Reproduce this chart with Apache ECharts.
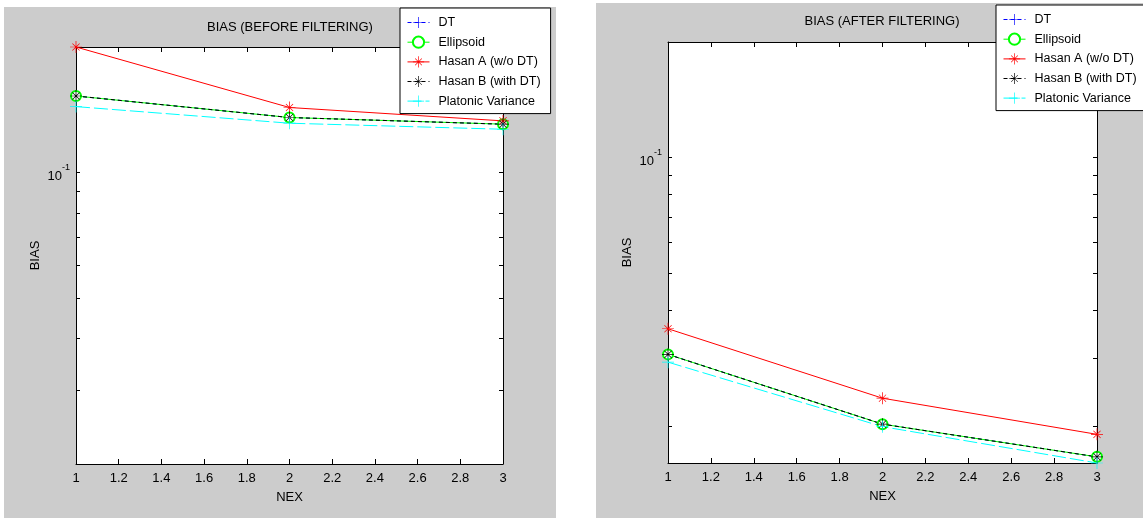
<!DOCTYPE html>
<html>
<head>
<meta charset="utf-8">
<script src="https://cdn.jsdelivr.net/npm/echarts@6/dist/echarts.min.js"></script>
<style>
  html, body { margin: 0; padding: 0; background: #ffffff; }
  #chart { width: 1143px; height: 518px; }
</style>
</head>
<body>
<div id="chart"></div>
<script>
// NEX values on the x axis
const nex = [1, 2, 3];

// Series names, in drawing order
const seriesNames = ['DT', 'Ellipsoid', 'Hasan A (w/o DT)', 'Hasan B (with DT)', 'Platonic Variance'];

// Bias before filtering
const dtBefore        = [0.1526, 0.1355, 0.1306];
const ellipsoidBefore = [0.1526, 0.1355, 0.1306];
const hasanABefore    = [0.2000, 0.1432, 0.1330];
const hasanBBefore    = [0.1526, 0.1355, 0.1306];
const platonicBefore  = [0.1439, 0.1313, 0.1270];

// Bias after filtering
const dtAfter        = [0.0307, 0.0202, 0.0166];
const ellipsoidAfter = [0.0307, 0.0202, 0.0166];
const hasanAAfter    = [0.0358, 0.0236, 0.0190];
const hasanBAfter    = [0.0307, 0.0202, 0.0166];
const platonicAfter  = [0.0293, 0.0199, 0.0160];

// Axis ranges and tick positions
const yRangeBefore = [0.02, 0.2];
const yRangeAfter  = [0.016, 0.2];
const yTickValues  = [0.02, 0.03, 0.04, 0.05, 0.06, 0.07, 0.08, 0.09, 0.1];
const yLabelValues = [0.1];
const xRange = [1, 3];
const xStep = 0.2;

const titles = ['BIAS (BEFORE FILTERING)', 'BIAS (AFTER FILTERING)'];
const xName = 'NEX';
const yName = 'BIAS';

const FONT = '"Liberation Sans", Arial, Helvetica, sans-serif';

// MATLAB-like marker shapes
const PLUS = 'path://M9.4,0H10.6V20H9.4Z M0,9.4H20V10.6H0Z';
const STAR = 'path://M9.4,0H10.6V20H9.4Z M0,9.4H20V10.6H0Z ' +
             'M3.6,4.4L4.4,3.6L16.4,15.6L15.6,16.4Z M15.6,3.6L16.4,4.4L4.4,16.4L3.6,15.6Z';

const styles = [
  { color: '#0000ff', type: [4, 3], symbol: PLUS, size: 11 },
  { color: '#00ff00', type: 'solid', symbol: 'emptyCircle', size: 10 },
  { color: '#ff0000', type: 'solid', symbol: STAR, size: 12 },
  { color: '#000000', type: [4, 3], symbol: STAR, size: 12 },
  { color: '#00ffff', type: [14, 4], symbol: PLUS, size: 12 }
];

const panels = [
  { values: [dtBefore, ellipsoidBefore, hasanABefore, hasanBBefore, platonicBefore], yRange: yRangeBefore,
    grid: { left: 76, top: 47, width: 427, height: 417 } },
  { values: [dtAfter, ellipsoidAfter, hasanAAfter, hasanBAfter, platonicAfter], yRange: yRangeAfter,
    grid: { left: 668, top: 42, width: 429, height: 421 } }
];

const log10 = Math.log10;
const grids = [], xAxes = [], yAxes = [], series = [];

panels.forEach((p, gi) => {
  grids.push(Object.assign({ show: true, backgroundColor: '#ffffff', borderWidth: 0 }, p.grid));

  const xCommon = {
    type: 'value', gridIndex: gi, min: xRange[0], max: xRange[1], interval: xStep,
    splitLine: { show: false },
    axisLine: { show: true, lineStyle: { color: '#000', width: 1 } },
    axisTick: { show: true, inside: true, length: 5, lineStyle: { color: '#000' } }
  };
  xAxes.push(Object.assign({}, xCommon, {
    position: 'bottom',
    axisLabel: { show: true, color: '#000', fontFamily: FONT, fontSize: 13, margin: 8 },
    name: xName, nameLocation: 'middle', nameGap: 27,
    nameTextStyle: { color: '#000', fontFamily: FONT, fontSize: 13 }
  }));
  xAxes.push(Object.assign({}, xCommon, { position: 'top', axisLabel: { show: false } }));

  // log axis that carries the data
  yAxes.push({
    type: 'log', gridIndex: gi, logBase: 10, min: p.yRange[0], max: p.yRange[1],
    axisLine: { show: false }, axisTick: { show: false }, axisLabel: { show: false },
    splitLine: { show: false }
  });
  // decade-scaled axes for the tick marks on both sides
  const yCommon = {
    type: 'value', gridIndex: gi, min: log10(p.yRange[0]), max: log10(p.yRange[1]),
    splitLine: { show: false },
    axisLine: { show: true, lineStyle: { color: '#000', width: 1 } },
    axisTick: { show: true, inside: true, length: 4, lineStyle: { color: '#000' },
                customValues: yTickValues.filter(v => v >= p.yRange[0]).map(log10) }
  };
  yAxes.push(Object.assign({}, yCommon, {
    position: 'left',
    axisLabel: {
      show: true, margin: 6,
      customValues: yLabelValues.map(log10),
      formatter: v => '{b|10}{e|' + Math.round(v) + '}',
      rich: {
        b: { fontFamily: FONT, fontSize: 13, color: '#000', lineHeight: 20, verticalAlign: 'bottom' },
        e: { fontFamily: FONT, fontSize: 9, color: '#000', lineHeight: 20, verticalAlign: 'top' }
      }
    },
    name: yName, nameLocation: 'middle', nameGap: 34, nameRotate: 90,
    nameTextStyle: { color: '#000', fontFamily: FONT, fontSize: 13 }
  }));
  yAxes.push(Object.assign({}, yCommon, { position: 'right', axisLabel: { show: false } }));

  p.values.forEach((vals, si) => {
    const s = styles[si];
    series.push({
      name: seriesNames[si], type: 'line',
      xAxisIndex: gi * 2, yAxisIndex: gi * 3,
      data: nex.map((x, i) => [x, vals[i]]),
      symbol: s.symbol, symbolSize: s.size, symbolKeepAspect: true,
      showAllSymbol: true, clip: false,
      color: s.color,
      lineStyle: { color: s.color, width: 1, type: s.type },
      itemStyle: s.symbol === 'emptyCircle'
        ? { color: s.color, borderColor: s.color, borderWidth: 1 }
        : { color: s.color, borderWidth: 0 },
      emphasis: { disabled: true },
      animation: false
    });
  });
});

const legendCommon = {
  orient: 'vertical', data: seriesNames, selectedMode: false,
  backgroundColor: '#ffffff', borderColor: '#000', borderWidth: 1,
  padding: [8, 10, 6, 7], itemGap: 6.6, itemWidth: 22, itemHeight: 14,
  lineStyle: { width: 1 },
  textStyle: { color: '#000', fontFamily: FONT, fontSize: 12.5, padding: [0, 0, 0, 4] }
};

const chart = echarts.init(document.getElementById('chart'), null, { renderer: 'canvas' });
chart.setOption({
  animation: false,
  backgroundColor: '#ffffff',
  graphic: [
    { type: 'rect', z: -100, shape: { x: 4, y: 7, width: 552, height: 511 }, style: { fill: '#cccccc' } },
    { type: 'rect', z: -100, shape: { x: 596, y: 3, width: 547, height: 515 }, style: { fill: '#cccccc' } }
  ],
  title: [
    { text: titles[0], left: 290, top: 21, textAlign: 'center',
      textStyle: { color: '#000', fontFamily: FONT, fontSize: 13, fontWeight: 'normal' }, padding: 0 },
    { text: titles[1], left: 882, top: 15, textAlign: 'center',
      textStyle: { color: '#000', fontFamily: FONT, fontSize: 13, fontWeight: 'normal' }, padding: 0 }
  ],
  legend: [
    Object.assign({ left: 400, top: 8 }, legendCommon),
    Object.assign({ left: 996, top: 5 }, legendCommon)
  ],
  grid: grids,
  xAxis: xAxes,
  yAxis: yAxes,
  series: series
});
</script>
</body>
</html>
